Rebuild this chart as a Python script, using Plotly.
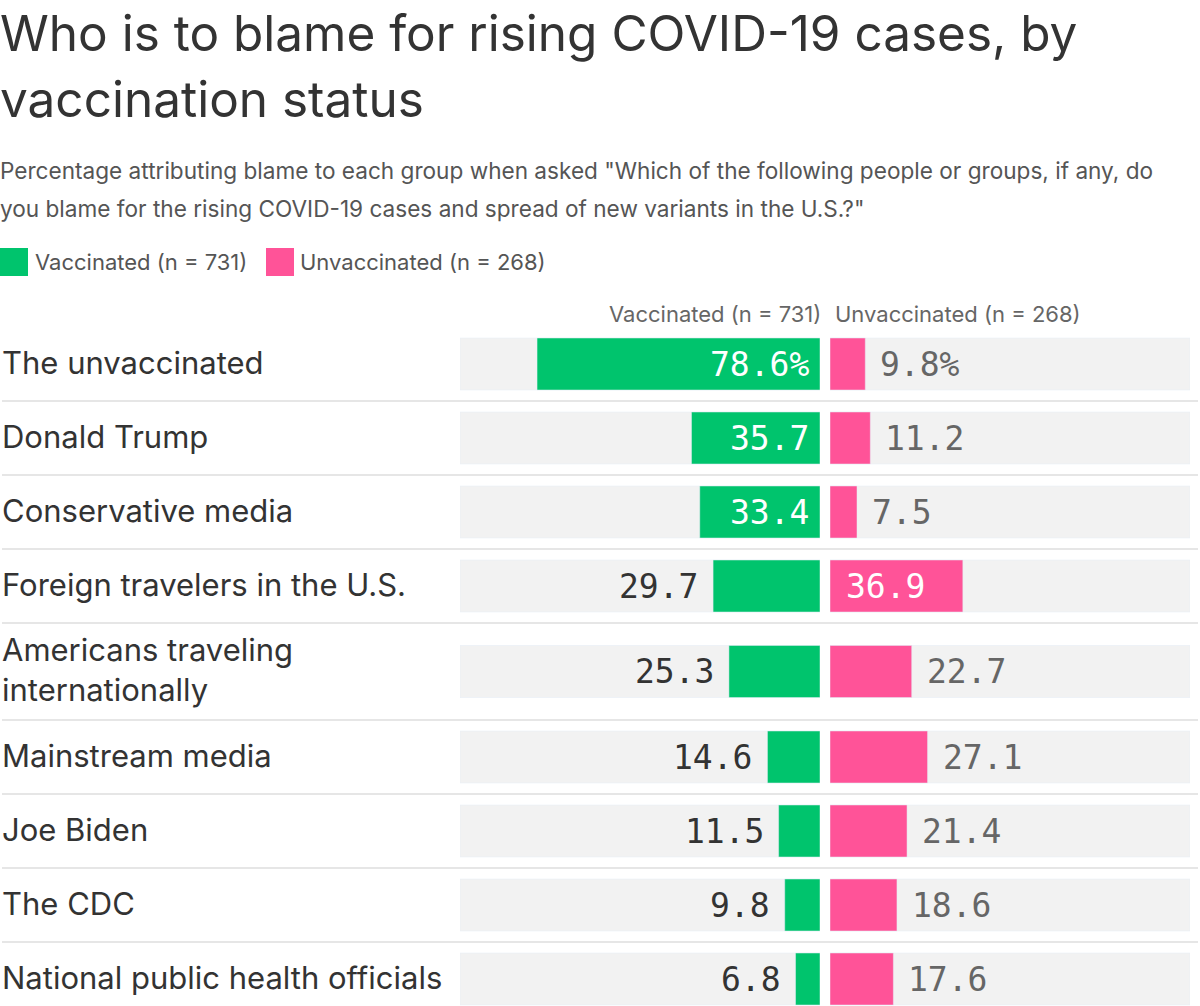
import plotly.graph_objects as go

# ---------------- data ----------------
categories = [
    "The unvaccinated",
    "Donald Trump",
    "Conservative media",
    "Foreign travelers in the U.S.",
    "Americans traveling<br>internationally",
    "Mainstream media",
    "Joe Biden",
    "The CDC",
    "National public health officials",
]
vaccinated = [78.6, 35.7, 33.4, 29.7, 25.3, 14.6, 11.5, 9.8, 6.8]
unvaccinated = [9.8, 11.2, 7.5, 36.9, 22.7, 27.1, 21.4, 18.6, 17.6]
series_names = ["Vaccinated (n = 731)", "Unvaccinated (n = 268)"]
title_lines = ["Who is to blame for rising COVID-19 cases, by", "vaccination status"]
subtitle_lines = [
    "Percentage attributing blame to each group when asked \"Which of the following people or groups, if any, do",
    "you blame for the rising COVID-19 cases and spread of new variants in the U.S.?\"",
]

# ---------------- style ----------------
W, H = 1200, 1006
TOP = 325
GREEN = "#00c46d"
PINK = "#ff5398"
BG = "#f2f2f2"
SEP = "#e6e6e6"
DARK = "#333333"
GREY = "#666666"
SANS = "Inter, Roboto, sans-serif"
MONO = "DejaVu Sans Mono, monospace"
INSIDE_MIN = 30  # labels drawn inside bars above this value
NUM_SIZE = 33


def yp(py):
    """pixel y (from top) -> paper y"""
    return (H - py) / (H - TOP)


def xp(px):
    return px / W


# row geometry (y axis is in pixel units, reversed)
row_top = 327
centers, bounds = [], []
y = row_top
for c in categories:
    nlines = c.count("<br>") + 1
    h = 74 + 23 * (nlines - 1)
    centers.append(y + h / 2)
    y += h
    bounds.append(y)

fig = go.Figure()
common = dict(orientation="h", width=52, hoverinfo="skip", showlegend=False, yaxis="y")
fig.add_trace(go.Bar(x=[100] * len(categories), y=centers, marker_color=BG, xaxis="x", **common))
fig.add_trace(go.Bar(x=vaccinated, y=centers, marker_color=GREEN, xaxis="x", name=series_names[0], **common))
fig.add_trace(go.Bar(x=[100] * len(categories), y=centers, marker_color=BG, xaxis="x2", **common))
fig.add_trace(go.Bar(x=unvaccinated, y=centers, marker_color=PINK, xaxis="x2", name=series_names[1], **common))

ann = []
shapes = []

# value labels
for i, (v, u, cy) in enumerate(zip(vaccinated, unvaccinated, centers)):
    suf = "%" if i == 0 else ""
    if v > INSIDE_MIN:
        ann.append(dict(x=0, y=cy, xref="x", yref="y", text=f"{v:.1f}{suf}", xanchor="right",
                        xshift=-9, showarrow=False, font=dict(family=MONO, size=NUM_SIZE, color="white")))
    else:
        ann.append(dict(x=v, y=cy, xref="x", yref="y", text=f"{v:.1f}{suf}", xanchor="right",
                        xshift=-13, showarrow=False, font=dict(family=MONO, size=NUM_SIZE, color=DARK)))
    if u > INSIDE_MIN:
        ann.append(dict(x=0, y=cy, xref="x2", yref="y", text=f"{u:.1f}{suf}", xanchor="left",
                        xshift=14, showarrow=False, font=dict(family=MONO, size=NUM_SIZE, color="white")))
    else:
        ann.append(dict(x=u, y=cy, xref="x2", yref="y", text=f"{u:.1f}{suf}", xanchor="left",
                        xshift=13, showarrow=False, font=dict(family=MONO, size=NUM_SIZE, color=GREY)))
    # category label
    ann.append(dict(x=xp(0), y=cy, xref="paper", yref="y", text=categories[i], xanchor="left",
                    yanchor="middle", align="left", showarrow=False, yshift=2,
                    font=dict(family=SANS, size=31, color=DARK)))

# separators
for b in bounds[:-1]:
    shapes.append(dict(type="line", xref="paper", yref="y", x0=xp(2), x1=xp(1198), y0=b, y1=b,
                       line=dict(color=SEP, width=2)))

# title
for j, (t, py) in enumerate(zip(title_lines, [33, 99])):
    ann.append(dict(x=xp(-2), y=yp(py), xref="paper", yref="paper", text=t, xanchor="left",
                    yanchor="middle", showarrow=False, font=dict(family=SANS, size=49.5, color=DARK)))
# subtitle
for t, py in zip(subtitle_lines, [170, 208]):
    ann.append(dict(x=xp(-2), y=yp(py), xref="paper", yref="paper", text=t, xanchor="left",
                    yanchor="middle", showarrow=False, font=dict(family=SANS, size=22.6, color="#555555")))

# legend
leg = [(0, GREEN, 33), (266, PINK, 298)]
for (sx, col, tx), name in zip(leg, series_names):
    shapes.append(dict(type="rect", xref="paper", yref="paper", x0=xp(sx), x1=xp(sx + 28),
                       y0=yp(276), y1=yp(248), fillcolor=col, line=dict(width=0)))
    ann.append(dict(x=xp(tx), y=yp(262), xref="paper", yref="paper", text=name, xanchor="left",
                    yanchor="middle", showarrow=False, font=dict(family=SANS, size=22, color="#555555")))

# column headers
ann.append(dict(x=xp(823), y=yp(314), xref="paper", yref="paper", text=series_names[0], xanchor="right",
                yanchor="middle", showarrow=False, font=dict(family=SANS, size=22, color=GREY)))
ann.append(dict(x=xp(833), y=yp(314), xref="paper", yref="paper", text=series_names[1], xanchor="left",
                yanchor="middle", showarrow=False, font=dict(family=SANS, size=22, color=GREY)))

fig.update_layout(
    width=W, height=H,
    margin=dict(l=0, r=0, t=TOP, b=0, pad=0),
    paper_bgcolor="white", plot_bgcolor="white",
    barmode="overlay",
    xaxis=dict(domain=[460 / W, 820 / W], range=[100, 0], visible=False, fixedrange=True),
    xaxis2=dict(domain=[830 / W, 1190 / W], range=[0, 100], visible=False, fixedrange=True, anchor="y"),
    yaxis=dict(range=[H, TOP], visible=False, fixedrange=True),
    annotations=ann,
    shapes=shapes,
    showlegend=False,
)

fig.write_html("out.html", config={"displayModeBar": False},
               post_script="document.body.style.margin='0';document.body.style.overflow='hidden';")
